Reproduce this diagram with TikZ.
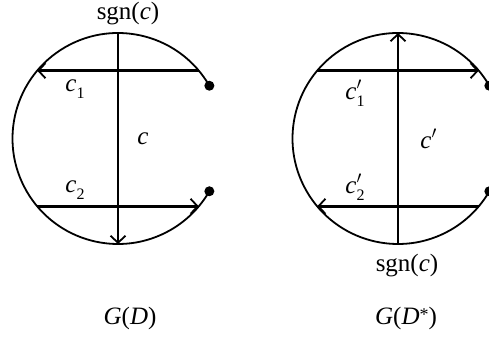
\documentclass[tikz,border=0pt]{standalone}
\usepackage{fontspec}
\setmainfont{Liberation Serif}
\usetikzlibrary{arrows.meta}
\newcommand\subs[1]{\raisebox{-0.28em}{\fontsize{16}{16}\selectfont #1}}
\newcommand\cprsub[1]{\textit{c}\rlap{\raisebox{0.42em}{\fontsize{17}{17}\selectfont$\prime$}}\subs{#1}}
\begin{document}
\begin{tikzpicture}[x=1pt,y=1pt,
  lbl/.style={inner sep=0pt,font=\fontsize{25}{30}\selectfont},
  circ/.style={line width=1.8pt},
  chord/.style={line width=2.5pt,-{Straight Barb[length=7pt,width=15pt,line width=1.8pt]}},
  dotn/.style={circle,fill=black,inner sep=0pt,minimum size=10pt}]
\useasboundingbox (0,0) rectangle (489,337);
\def\R{105.5}
% left diagram
\coordinate (cL) at (118,198.5);
\coordinate (Ltop) at ([shift={(90:\R)}]cL);
\coordinate (Lbot) at ([shift={(270:\R)}]cL);
\coordinate (L1r) at ([shift={(40:\R)}]cL);
\coordinate (L1l) at ([shift={(140:\R)}]cL);
\coordinate (L2r) at ([shift={(-40:\R)}]cL);
\coordinate (L2l) at ([shift={(220:\R)}]cL);
\node[dotn] (Ld1) at ([shift={(30:\R)}]cL) {};
\node[dotn] (Ld2) at ([shift={(-30:\R)}]cL) {};
\draw[circ] (Ld1.center) arc[start angle=30,end angle=330,radius=\R];
\draw[chord] (Ltop) -- (Lbot);
\draw[chord] (L1r) -- (L1l);
\draw[chord] (L2l) -- (L2r);
\node[lbl] (Lsgn) at (128,323) {sgn(\textit{c})};
\node[lbl] (Lc1) at (75,248) {\textit{c}\subs{1}};
\node[lbl] (Lc) at (143,198) {\textit{c}};
\node[lbl] (Lc2) at (75,147) {\textit{c}\subs{2}};
\node[lbl] (LG) at (130,19) {\textit{G}(\textit{D})};
% right diagram
\coordinate (cR) at (398,198.5);
\coordinate (Rtop) at ([shift={(90:\R)}]cR);
\coordinate (Rbot) at ([shift={(270:\R)}]cR);
\coordinate (R1r) at ([shift={(40:\R)}]cR);
\coordinate (R1l) at ([shift={(140:\R)}]cR);
\coordinate (R2r) at ([shift={(-40:\R)}]cR);
\coordinate (R2l) at ([shift={(220:\R)}]cR);
\node[dotn] (Rd1) at ([shift={(30:\R)}]cR) {};
\node[dotn] (Rd2) at ([shift={(-30:\R)}]cR) {};
\draw[circ] (Rd1.center) arc[start angle=30,end angle=330,radius=\R];
\draw[chord] (Rbot) -- (Rtop);
\draw[chord] (R1l) -- (R1r);
\draw[chord] (R2r) -- (R2l);
\node[lbl] (Rc1) at (355,244) {\cprsub{1}};
\node[lbl] (Rc) at (426,198) {\textit{c}\rlap{\raisebox{0.42em}{\fontsize{17}{17}\selectfont$\prime$}}\hspace{0.15em}};
\node[lbl] (Rc2) at (355,150) {\cprsub{2}};
\node[lbl] (Rsgn) at (407,71) {sgn(\textit{c})};
\node[lbl] (RG) at (406,19) {\textit{G}(\textit{D}\raisebox{0.15em}{\fontsize{18}{18}\selectfont *})};
\end{tikzpicture}
\end{document}
